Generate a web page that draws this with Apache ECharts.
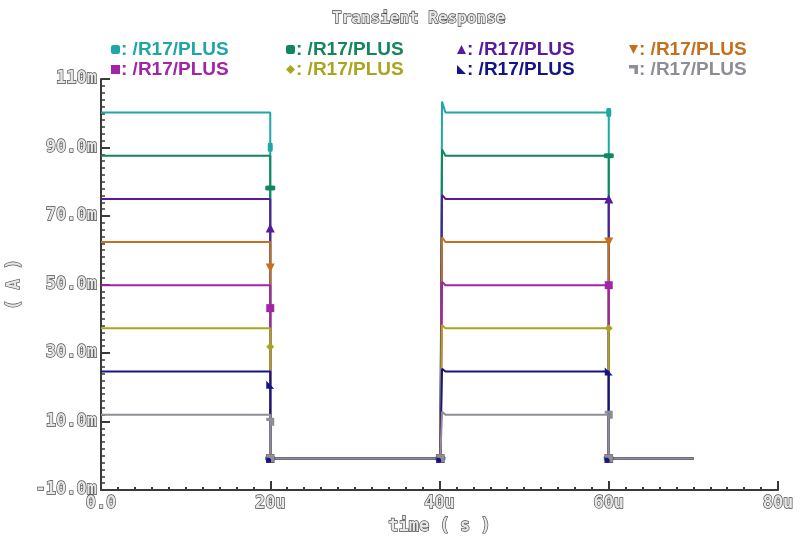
<!DOCTYPE html>
<html>
<head>
<meta charset="utf-8">
<script src="https://cdn.jsdelivr.net/npm/echarts@6/dist/echarts.min.js"></script>
<style>html,body{margin:0;padding:0;background:#fff;}#c{width:805px;height:540px;}</style>
</head>
<body>
<div id="c"></div>
<script>
// ---- data (current in mA, time in µs) ----
const seriesNames = ['/R17/PLUS','/R17/PLUS','/R17/PLUS','/R17/PLUS','/R17/PLUS','/R17/PLUS','/R17/PLUS','/R17/PLUS'];
const highLevels = [100.2, 87.6, 75.0, 62.4, 49.8, 37.2, 24.6, 12.0];
const lowLevel = -0.8;
const edgeMarkerLevels = [90.1, 78.2, 66.5, 54.8, 43.1, 31.8, 20.7, 9.9];
const overshootPeaks = [103.4, 89.4, 76.2, 63.8, 50.8, 38.2, 25.4, 12.8];
const timePoints = [0, 20, 40.1, 40.3, 40.7, 60, 70];
const xTickLabels = ['0.0', '20u', '40u', '60u', '80u'];
const yTickLabels = ['-10.0m', '10.0m', '30.0m', '50.0m', '70.0m', '90.0m', '110m'];
const title = 'Transient Response';

// ---- styles ----
const colors = ['#1fa7a7', '#12875e', '#5a1a9c', '#c4701e', '#a324a8', '#a9a51f', '#141488', '#8e8e96'];
const symbols = ['roundRect', 'roundRect', 'triangle', 'triangle', 'rect', 'diamond',
  'path://M0,0 L0,10 L10,10 Z', 'path://M0,0 L10,0 L10,10 L6,10 L6,4 L0,4 Z'];
const symSizes = [[5, 9], [10, 5], 9, 9, 8, 8, 8, 8];
const symRot = [0, 0, 0, 180, 0, 0, 0, 0];

const uniq = (n, i) => n + '\u200b'.repeat(i);

const series = seriesNames.map((n, i) => {
  const mk = v => ({ value: v });
  const nm = v => ({ value: v, symbol: 'none' });
  const t = timePoints;
  return {
    name: uniq(n, i),
    type: 'line',
    showSymbol: true,
    showAllSymbol: true,
    symbol: symbols[i],
    symbolSize: symSizes[i],
    symbolRotate: symRot[i],
    color: colors[i],
    lineStyle: { width: 2, color: colors[i] },
    itemStyle: { color: colors[i] },
    emphasis: { disabled: true },
    data: [
      nm([t[0], highLevels[i]]),
      nm([t[1], highLevels[i]]),
      mk([t[1], edgeMarkerLevels[i]]),
      mk([t[1], lowLevel]),
      mk([t[2], lowLevel]),
      nm([t[3], overshootPeaks[i]]),
      nm([t[4], highLevels[i]]),
      mk([t[5], highLevels[i]]),
      mk([t[5], lowLevel]),
      nm([t[6], lowLevel])
    ]
  };
});

const outlined = { color: '#e6e6e6', textBorderColor: '#4a4a4a', textBorderWidth: 1.3,
  fontFamily: 'DejaVu Sans Mono', fontWeight: 'bold', fontSize: 17 };

const legendCols = [[0, 4], [1, 5], [2, 6], [3, 7]];
const legendLeft = [106, 281, 452, 624];
const legends = legendCols.map((col, k) => ({
  orient: 'vertical',
  left: legendLeft[k],
  top: 35,
  itemGap: 1,
  itemWidth: 9,
  itemHeight: 9,
  selectedMode: false,
  formatter: name => ': ' + name.replace(/\u200b/g, ''),
  textStyle: { fontFamily: 'Liberation Sans', fontWeight: 'bold', fontSize: 19, padding: [0, 0, 0, -4] },
  data: col.map(i => ({
    name: uniq(seriesNames[i], i),
    icon: symbols[i] === 'triangle' && symRot[i] === 180 ? 'path://M0,0 L10,0 L5,10 Z' : symbols[i],
    itemStyle: { color: colors[i] },
    textStyle: { color: colors[i] }
  }))
}));

const chart = echarts.init(document.getElementById('c'), null, { renderer: 'canvas' });
chart.setOption({
  animation: false,
  backgroundColor: '#ffffff',
  title: {
    text: title, left: 327, top: 6,
    textStyle: Object.assign({}, outlined, { fontSize: 16 })
  },
  legend: legends,
  grid: { left: 101, right: 27, top: 79, bottom: 50, containLabel: false, outerBoundsMode: 'none' },
  xAxis: {
    type: 'value', min: 0, max: 80, interval: 20,
    name: 'time ( s )', nameLocation: 'middle', nameGap: 25,
    nameTextStyle: outlined,
    axisLine: { show: true, onZero: false, lineStyle: { color: '#3a3a3a', width: 2 } },
    axisTick: { show: true, inside: true, length: 9, lineStyle: { color: '#3a3a3a', width: 2 } },
    minorTick: { show: true, splitNumber: 10, length: 3, lineStyle: { color: '#3a3a3a', width: 2 } },
    splitLine: { show: false },
    axisLabel: Object.assign({}, outlined, { margin: 5,
      formatter: v => xTickLabels[Math.round(v / 20)] })
  },
  yAxis: {
    type: 'value', min: -10, max: 110, interval: 20,
    name: '( A )', nameLocation: 'middle', nameGap: 78, nameRotate: 90,
    nameTextStyle: outlined,
    axisLine: { show: true, onZero: false, lineStyle: { color: '#3a3a3a', width: 2 } },
    axisTick: { show: true, inside: true, length: 9, lineStyle: { color: '#3a3a3a', width: 2 } },
    minorTick: { show: true, splitNumber: 10, length: 4, lineStyle: { color: '#3a3a3a', width: 1.5 } },
    splitLine: { show: false },
    axisLabel: Object.assign({}, outlined, { margin: 4, padding: [0, 0, 8, 0],
      formatter: v => yTickLabels[Math.round((v + 10) / 20)] })
  },
  series: series
});
</script>
</body>
</html>
